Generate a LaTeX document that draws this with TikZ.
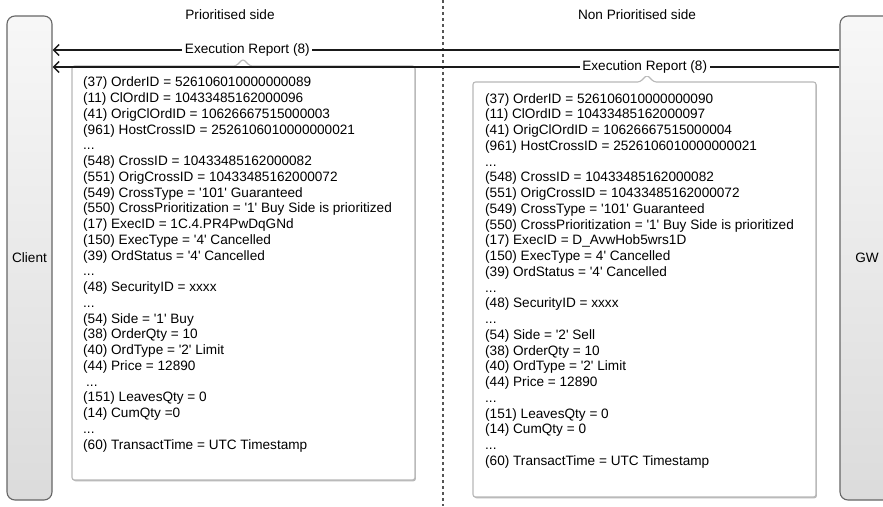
\documentclass[tikz,border=0pt]{standalone}
\usepackage{fontspec}
\setmainfont{Liberation Sans}[Ligatures=TeXOff]
\usetikzlibrary{arrows.meta,shadows}
\definecolor{linec}{HTML}{1A1A1A}
\definecolor{actorborder}{HTML}{666666}
\definecolor{calloutborder}{HTML}{B8B8B8}
\definecolor{dashc}{HTML}{555555}
\tikzset{
  basefont/.style={font=\fontsize{13.6}{15.75}\selectfont},
  actor/.style={draw=actorborder, line width=1.1pt, rounded corners=8pt,
    top color=black!3, bottom color=black!14, basefont, text=black},
  msg/.style={draw=linec, line width=1.9pt, -{Straight Barb[length=5.5pt,width=11pt,line width=1.5pt]}},
  lbl/.style={fill=white, inner sep=2.5pt, basefont, text=black},
  callout/.style={draw=calloutborder, fill=white, line width=1.1pt, rounded corners=2.5pt,
    drop shadow={shadow xshift=0.9pt, shadow yshift=-1.3pt, fill=black!28, opacity=1}},
  fields/.style={anchor=north west, inner sep=0pt, align=left, basefont, text=black},
  header/.style={basefont, text=black},
  divider/.style={draw=dashc, line width=1.3pt, dash pattern=on 3pt off 3pt}
}
\begin{document}
\begin{tikzpicture}[x=1pt,y=-1pt]
\useasboundingbox (0,0) rectangle (883,506);
\clip (0,0) rectangle (883,506);
\fill[white] (0,0) rectangle (883,506);

% divider
\coordinate (dtop) at (443,0);
\coordinate (dbot) at (443,506);
\draw[divider] (dtop) -- (dbot);

% headers
\node[header] (hp) at (230,15) {Prioritised side};
\node[header] (hn) at (637,15) {Non Prioritised side};

% actors
\node[actor, minimum width=45pt, minimum height=484pt] (client) at (29.5,258) {Client};
\node[actor, minimum width=54pt, minimum height=484pt] (gw) at (867,258) {GW};

% callout boxes
\draw[callout] (72,66) -- (236,66) -- (243,59) -- (250,66) -- (415,66) -- (415,480) -- (72,480) -- cycle;
\draw[callout] (473,82) -- (640,82) -- (647,75) -- (654,82) -- (816,82) -- (816,497) -- (473,497) -- cycle;

% messages
\coordinate (r1) at (0,50);
\coordinate (r2) at (0,67);
\draw[msg] (gw.west |- r1) -- node[lbl, pos=0.7525] (m1) {Execution Report (8)} (client.east |- r1);
\draw[msg] (gw.west |- r2) -- node[lbl, pos=0.2475] (m2) {Execution Report (8)} (client.east |- r2);

% field lists
\node[fields] (f1) at (83,76.7) {%
(37) OrderID = 526106010000000089\\
(11) ClOrdID = 10433485162000096\\
(41) OrigClOrdID = 10626667515000003\\
(961) HostCrossID = 2526106010000000021\\
...\\
(548) CrossID = 10433485162000082\\
(551) OrigCrossID = 10433485162000072\\
(549) CrossType = '101' Guaranteed\\
(550) CrossPrioritization = '1' Buy Side is prioritized\\
(17) ExecID = 1C.4.PR4PwDqGNd\\
(150) ExecType = '4' Cancelled\\
(39) OrdStatus = '4' Cancelled\\
...\\
(48) SecurityID = xxxx\\
...\\
(54) Side = '1' Buy\\
(38) OrderQty = 10\\
(40) OrdType = '2' Limit\\
(44) Price = 12890\\
\hspace*{3pt}...\\
(151) LeavesQty = 0\\
(14) CumQty =0\\
...\\
(60) TransactTime = UTC Timestamp};

\node[fields] (f2) at (485,93) {%
(37) OrderID = 526106010000000090\\
(11) ClOrdID = 10433485162000097\\
(41) OrigClOrdID = 10626667515000004\\
(961) HostCrossID = 2526106010000000021\\
...\\
(548) CrossID = 10433485162000082\\
(551) OrigCrossID = 10433485162000072\\
(549) CrossType = '101' Guaranteed\\
(550) CrossPrioritization = '1' Buy Side is prioritized\\
(17) ExecID = D\_AvwHob5wrs1D\\
(150) ExecType = 4' Cancelled\\
(39) OrdStatus = '4' Cancelled\\
...\\
(48) SecurityID = xxxx\\
...\\
(54) Side = '2' Sell\\
(38) OrderQty = 10\\
(40) OrdType = '2' Limit\\
(44) Price = 12890\\
...\\
(151) LeavesQty = 0\\
(14) CumQty = 0\\
...\\
(60) TransactTime = UTC Timestamp};
\end{tikzpicture}
\end{document}
